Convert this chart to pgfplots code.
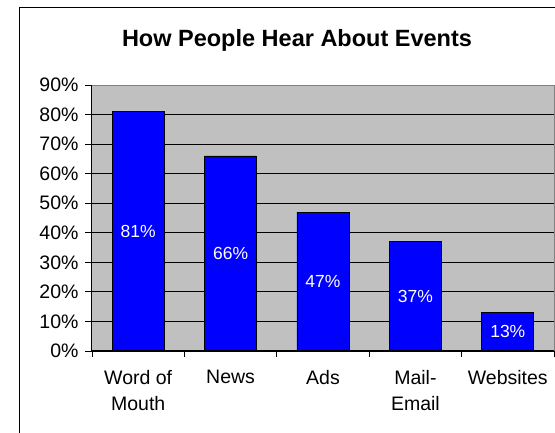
\documentclass[border=0pt]{standalone}
\usepackage{fontspec}
\setmainfont{Liberation Sans}
\usepackage{pgfplots}
\pgfplotsset{compat=1.18}
\definecolor{plotgray}{HTML}{C0C0C0}
\definecolor{bordergray}{HTML}{808080}
\definecolor{barblue}{HTML}{0000FF}
\begin{document}
\begin{tikzpicture}[x=1pt,y=1pt]
\path[use as bounding box] (0,0) rectangle (555,433);
\clip (0,0) rectangle (555,433);
\fill[white] (0,0) rectangle (555,433);
\draw[black,line width=1pt] (19,425) rectangle (620,-40);
\node[anchor=base,font=\fontsize{23.5}{26}\selectfont\bfseries] at (297,386) {How People Hear About Events};
\begin{axis}[
  at={(92pt,82pt)}, anchor=south west,
  width=462pt, height=266pt, scale only axis,
  xmin=-0.5, xmax=4.5, ymin=0, ymax=90,
  axis background/.style={fill=plotgray},
  axis line style={draw=bordergray, line width=1pt},
  /pgf/number format/assume math mode=true,
  ytick={0,10,...,90},
  yticklabel={\pgfmathprintnumber{\tick}\%},
  ymajorgrids, grid style={black, line width=0.8pt},
  xtick={0,1,2,3,4},
  xticklabels={Word of\\Mouth, News, Ads, Mail-\\Email, Websites},
  minor xtick={-0.5,0.5,1.5,2.5,3.5,4.5},
  tick align=outside,
  major tick length=7pt,
  minor tick length=6pt,
  x tick style={draw=none},
  minor x tick style={draw=black, line width=0.8pt},
  y tick style={black, line width=0.8pt},
  ticklabel style={font=\fontsize{19.5}{26}\selectfont},
  yticklabel style={xshift=-3pt},
  xticklabel style={align=center, yshift=-9pt},
  xtick pos=bottom, ytick pos=left,
  after end axis/.code={\draw[black,line width=1pt] (rel axis cs:0,1) -- (rel axis cs:0,0) -- (rel axis cs:1,0);},
  visualization depends on={y \as \rawy},
  nodes near coords={\pgfmathprintnumber{\pgfplotspointmeta}\%},
  nodes near coords style={anchor=center, text=white, font=\fontsize{17.5}{20}\selectfont, shift={(axis direction cs:0,-\rawy/2)}},
]
\addplot[ybar, bar width=52pt, fill=barblue, draw=black, line width=0.8pt] coordinates {(0,81) (1,66) (2,47) (3,37) (4,13)};
\end{axis}
\end{tikzpicture}
\end{document}
